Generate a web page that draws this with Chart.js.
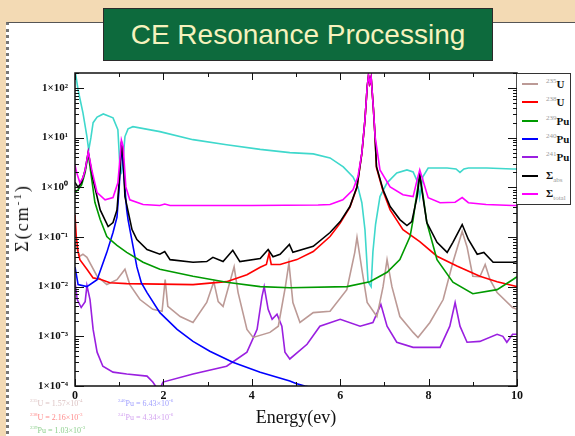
<!DOCTYPE html>
<html>
<head>
<meta charset="utf-8">
<title>CE Resonance Processing</title>
<script src="https://cdn.jsdelivr.net/npm/chart.js@4.4.0/dist/chart.umd.min.js"></script>
<style>
  html, body { margin: 0; padding: 0; }
  body {
    width: 575px; height: 436px; overflow: hidden; position: relative;
    background: #f3dab4;
    font-family: 'Liberation Serif', 'DejaVu Serif', serif;
  }
  #panel {
    position: absolute; left: 6px; top: 22px; width: 600px; height: 430px;
    background: #fff; border-top: 1px solid #555; border-left: 3px dotted #777;
  }
  #titleBox {
    position: absolute; left: 103px; top: 8px; width: 388px; height: 51px;
    background: #0d6a3d; border: 1px solid #2b2b2b;
    color: #f6f2bd; font: 28px 'Liberation Sans', Arial, sans-serif;
    text-align: center; line-height: 52px;
  }
  #chart { position: absolute; left: 0; top: 0; }
  #legend {
    position: absolute; left: 517px; top: 73px; width: 53px; height: 130px;
    border: 1px solid #333; border-left-width: 0; background: #fff;
  }
  .row { position: absolute; left: 0; width: 53px; height: 16px; }
  .sw { position: absolute; left: 5px; top: 7px; width: 16px; height: 2px; }
  .lab { position: absolute; left: 29px; top: 1px; font: bold 11px 'Liberation Serif', serif; color: #111; white-space: nowrap; }
  .lab sup { font-size: 7px; font-weight: normal; color: #999; }
  .lab sub { font-size: 7px; font-weight: normal; color: #999; }
  #yTitle {
    position: absolute; left: 22px; top: 218px;
    transform: translate(-50%, -50%) rotate(-90deg);
    font: 18px 'Liberation Serif', serif; letter-spacing: 2px; white-space: nowrap; color: #111;
  }
  #yTitle sup { font-size: 11px; }
  .note { position: absolute; font: 8px 'Liberation Serif', serif; white-space: nowrap; }
  .note sup { font-size: 5px; }
</style>
</head>
<body>
<div id="panel"></div>
<div id="titleBox">CE Resonance Processing</div>
<canvas id="chart" width="575" height="436"></canvas>
<div id="legend"></div>
<div id="yTitle">Σ(cm<sup>-1</sup>)</div>

<div class="note" style="left:30px; top:398px; color:#dcc2c2"><sup>235</sup>U = 1.57×10<sup>-4</sup></div>
<div class="note" style="left:30px; top:412px; color:#ff8a8a"><sup>238</sup>U = 2.16×10<sup>-3</sup></div>
<div class="note" style="left:30px; top:425px; color:#8ccf8c"><sup>239</sup>Pu = 1.03×10<sup>-3</sup></div>
<div class="note" style="left:118px; top:398px; color:#a0a0ff"><sup>240</sup>Pu = 6.43×10<sup>-6</sup></div>
<div class="note" style="left:118px; top:412px; color:#d2a2f0"><sup>241</sup>Pu = 4.34×10<sup>-6</sup></div>

<script>
// [energy (eV), macroscopic cross section (1/cm)] pairs for each curve
const u235 = [
  [0, 0.079], [0.05, 0.056], [0.11, 0.041], [0.18, 0.045], [0.27, 0.039], [0.5, 0.0162],
  [0.72, 0.011], [0.95, 0.0138], [1.13, 0.0224], [1.24, 0.011], [1.47, 0.0055], [1.76, 0.0035],
  [1.97, 0.0032], [2.04, 0.0138], [2.1, 0.004], [2.38, 0.0025], [2.67, 0.0019], [2.98, 0.0048],
  [3.14, 0.0126], [3.24, 0.005], [3.35, 0.004], [3.6, 0.025], [3.69, 0.0076], [3.89, 0.00138],
  [4.03, 0.00095], [4.41, 0.0012], [4.6, 0.0016], [4.76, 0.01], [4.84, 0.03], [4.93, 0.0048],
  [5.09, 0.0019], [5.39, 0.003], [5.77, 0.0032], [6.15, 0.0087], [6.33, 0.049], [6.38, 0.098],
  [6.49, 0.0224], [6.61, 0.0048], [6.83, 0.0025], [6.97, 0.01], [7.06, 0.035], [7.17, 0.01],
  [7.35, 0.0025], [7.65, 0.0012], [7.76, 0.00095], [8.03, 0.0019], [8.33, 0.0055], [8.55, 0.031],
  [8.76, 0.129], [8.87, 0.063], [9.0, 0.0162], [9.16, 0.0158], [9.28, 0.028], [9.39, 0.0138],
  [9.55, 0.0076], [9.9, 0.0038], [10, 0.0035]
];
const u238 = [
  [0, 0.28], [0.03, 0.1], [0.07, 0.05], [0.11, 0.035], [0.27, 0.0224], [0.41, 0.015],
  [0.57, 0.0141], [0.79, 0.012], [1.17, 0.0115], [2.67, 0.011], [3.43, 0.0126], [3.89, 0.0174],
  [4.19, 0.0245], [4.33, 0.028], [4.39, 0.047], [4.44, 0.028], [4.64, 0.028], [5.02, 0.035],
  [5.39, 0.051], [5.77, 0.102], [6.0, 0.19], [6.22, 0.4], [6.38, 1.0], [6.49, 4.8],
  [6.56, 22.4], [6.61, 102], [6.64, 174], [6.67, 123], [6.7, 162], [6.75, 39], [6.79, 10],
  [6.82, 2.5], [6.97, 0.83], [7.13, 0.35], [7.42, 0.141], [7.8, 0.081], [8.19, 0.041],
  [8.64, 0.026], [9.16, 0.0162], [9.55, 0.0126], [9.9, 0.0105], [10, 0.01]
];
const pu239 = [
  [0, 0.79], [0.07, 0.89], [0.15, 1.12], [0.23, 2.0], [0.3, 4.8], [0.38, 1.41], [0.45, 0.5],
  [0.57, 0.224], [0.72, 0.102], [0.79, 0.089], [0.95, 0.068], [1.17, 0.049], [1.54, 0.031],
  [1.92, 0.0224], [2.67, 0.0162], [3.43, 0.0123], [4.19, 0.01], [4.86, 0.0095], [6.15, 0.01],
  [6.67, 0.0126], [7.06, 0.0195], [7.35, 0.035], [7.58, 0.102], [7.65, 0.224], [7.72, 0.63],
  [7.8, 1.78], [7.88, 0.63], [7.96, 0.195], [8.19, 0.035], [8.55, 0.0123], [9.0, 0.0072],
  [9.55, 0.0087], [9.9, 0.0138], [10, 0.0158]
];
const pu240 = [
  [0, 0.025], [0.07, 0.011], [0.27, 0.01], [0.5, 0.0138], [0.72, 0.049], [0.86, 0.123],
  [0.95, 0.25], [1.0, 1.0], [1.05, 7.6], [1.1, 2.0], [1.17, 0.35], [1.2, 0.224], [1.4, 0.025],
  [1.5, 0.012], [1.63, 0.0076], [1.92, 0.003], [2.31, 0.00138], [2.67, 0.00079], [3.05, 0.0005],
  [3.57, 0.0003], [4.19, 0.00019], [4.86, 0.000126], [5.0, 0.000112], [5.2, 0.0001],
  [6, 0.00007], [10, 0.000025]
];
const pu241 = [
  [0, 0.0126], [0.05, 0.0055], [0.14, 0.0038], [0.23, 0.005], [0.27, 0.0105], [0.34, 0.0055],
  [0.41, 0.00138], [0.5, 0.00048], [0.63, 0.00025], [0.86, 0.00019], [1.17, 0.000174],
  [1.63, 0.000158], [1.76, 0.00012], [1.9, 0.000079], [1.99, 0.00012], [2.67, 0.000174],
  [3.43, 0.00025], [3.89, 0.00048], [4.12, 0.00138], [4.23, 0.0063], [4.28, 0.01], [4.37, 0.0035],
  [4.46, 0.0022], [4.57, 0.0028], [4.68, 0.0016], [4.75, 0.00048], [4.86, 0.00035], [5.25, 0.00069],
  [5.54, 0.0016], [6.0, 0.0022], [6.45, 0.0016], [6.74, 0.0019], [6.92, 0.0044], [7.06, 0.0016],
  [7.28, 0.00076], [7.65, 0.0006], [8.26, 0.0006], [8.48, 0.0016], [8.6, 0.0048], [8.71, 0.0016],
  [8.87, 0.00076], [9.16, 0.00079], [9.55, 0.0011], [9.68, 0.001], [9.77, 0.00076], [9.9, 0.0011],
  [10, 0.0011]
];
const sigmaAbs = [
  [0, 1.26], [0.07, 1.0], [0.15, 1.26], [0.23, 2.24], [0.3, 5.1], [0.41, 1.41], [0.57, 0.35],
  [0.75, 0.162], [0.86, 0.195], [0.95, 0.35], [1.02, 2.24], [1.05, 8.3], [1.09, 4.0], [1.13, 0.65],
  [1.29, 0.141], [1.4, 0.089], [1.63, 0.056], [1.92, 0.045], [2.03, 0.051], [2.15, 0.035],
  [2.67, 0.031], [2.98, 0.032], [3.12, 0.039], [3.35, 0.032], [3.57, 0.054], [3.73, 0.032],
  [4.19, 0.037], [4.37, 0.056], [4.48, 0.04], [4.64, 0.045], [4.85, 0.071], [4.93, 0.049],
  [5.39, 0.065], [5.77, 0.123], [6.0, 0.204], [6.22, 0.41], [6.38, 1.02], [6.49, 4.9],
  [6.56, 22.9], [6.61, 105], [6.64, 178], [6.67, 126], [6.7, 166], [6.75, 40], [6.79, 10],
  [6.82, 2.63], [6.97, 0.89], [7.13, 0.41], [7.35, 0.224], [7.51, 0.17], [7.62, 0.204],
  [7.74, 0.65], [7.8, 1.78], [7.87, 0.65], [7.96, 0.195], [8.19, 0.078], [8.42, 0.049],
  [8.55, 0.078], [8.76, 0.178], [8.9, 0.089], [9.1, 0.045], [9.25, 0.049], [9.46, 0.031],
  [9.9, 0.031], [10, 0.032]
];
const sigmaTotal = [
  [0, 2.8], [0.04, 1.95], [0.11, 1.23], [0.18, 1.58], [0.23, 2.24], [0.3, 5.2], [0.38, 2.24],
  [0.5, 0.78], [0.68, 0.56], [0.86, 0.62], [0.97, 1.23], [1.02, 4.0], [1.05, 8.9], [1.09, 6.6],
  [1.15, 1.02], [1.24, 0.56], [1.54, 0.45], [1.92, 0.43], [2.03, 0.46], [2.15, 0.43], [4.0, 0.43],
  [5.5, 0.44], [5.77, 0.45], [6.06, 0.56], [6.29, 0.89], [6.4, 1.62], [6.49, 4.9], [6.56, 22.9],
  [6.61, 105], [6.64, 178], [6.67, 126], [6.7, 166], [6.75, 40], [6.79, 10.5], [6.9, 2.24],
  [7.13, 1.02], [7.42, 0.71], [7.65, 0.65], [7.74, 1.41], [7.8, 2.24], [7.87, 1.41], [7.99, 0.62],
  [8.26, 0.49], [8.6, 0.5], [8.76, 0.62], [8.9, 0.49], [9.3, 0.45], [9.9, 0.43], [10, 0.43]
];
// unlabelled cyan curve (no legend entry)
const cyanCurve = [
  [0, 230], [0.07, 91], [0.18, 31.6], [0.27, 10.5], [0.31, 5.6], [0.36, 10], [0.41, 20],
  [0.5, 26], [0.64, 30], [0.86, 25], [0.97, 14.5], [1.02, 2.24], [1.05, 2.0], [1.09, 4.0],
  [1.13, 10.5], [1.2, 15], [1.31, 16.6], [1.92, 13.2], [2.67, 9.1], [3.43, 7.2], [4.19, 5.8],
  [4.86, 5.0], [5.39, 4.7], [5.77, 3.9], [6.07, 2.57], [6.29, 1.62], [6.4, 1.02], [6.49, 0.49],
  [6.56, 0.141], [6.63, 0.0126], [6.7, 0.01], [6.74, 0.05], [6.8, 0.18], [6.9, 0.65],
  [7.06, 1.23], [7.28, 1.95], [7.51, 2.24], [7.65, 2.04], [7.76, 1.23], [7.8, 0.63], [7.87, 1.62],
  [7.99, 2.45], [8.42, 2.45], [8.62, 2.34], [8.71, 2.0], [8.8, 2.34], [8.9, 2.45], [9.32, 2.45],
  [9.9, 2.34], [10, 2.34]
];

// axis range and tick layout
const energyTicks = [0, 1, 2, 3, 4, 5, 6, 7, 8, 9, 10];
const decadeExps = [-4, -3, -2, -1, 0, 1, 2];
const sigmaMin = 1e-4;
const sigmaMax = 200;

// legend rows: label html, colour, data, draw order (higher = drawn first)
const series = [
  { key: '235U', html: '<sup>235</sup>U', color: '#bc9a96', data: u235, order: 5 },
  { key: '238U', html: '<sup>238</sup>U', color: '#ff0000', data: u238, order: 4 },
  { key: '239Pu', html: '<sup>239</sup>Pu', color: '#009a00', data: pu239, order: 2 },
  { key: '240Pu', html: '<sup>240</sup>Pu', color: '#0000ff', data: pu240, order: 3 },
  { key: '241Pu', html: '<sup>241</sup>Pu', color: '#9a1fe0', data: pu241, order: 6 },
  { key: 'Σabs', html: 'Σ<sub>abs</sub>', color: '#000000', data: sigmaAbs, order: 1 },
  { key: 'Σtotal', html: 'Σ<sub>total</sub>', color: '#ff00ff', data: sigmaTotal, order: 0 }
];

const SUP = { '-': '⁻', '0': '⁰', '1': '¹', '2': '²', '3': '³', '4': '⁴', '5': '⁵', '6': '⁶', '7': '⁷', '8': '⁸', '9': '⁹' };
const supText = n => String(n).split('').map(c => SUP[c]).join('');

const toPoints = pairs => pairs.map(([x, y]) => ({ x, y }));

const datasets = series.map(s => ({
  label: s.key,
  data: toPoints(s.data),
  borderColor: s.color,
  order: s.order
}));
datasets.push({ label: '', data: toPoints(cyanCurve), borderColor: '#3fd8cc', order: 7 });

// inward tick marks on all four sides plus the plot frame
const frameTicks = {
  id: 'frameTicks',
  afterDatasetsDraw(chart) {
    const { ctx, chartArea: a, scales: { x, y } } = chart;
    const seg = (x1, y1, x2, y2) => { ctx.beginPath(); ctx.moveTo(x1, y1); ctx.lineTo(x2, y2); ctx.stroke(); };
    ctx.save();
    ctx.strokeStyle = '#111';
    ctx.lineWidth = 1;
    energyTicks.forEach(e => {
      const px = Math.round(x.getPixelForValue(e)) + 0.5;
      const len = e % 2 === 0 ? 7 : 4;
      seg(px, a.bottom, px, a.bottom - len);
      seg(px, a.top, px, a.top + len);
    });
    decadeExps.forEach(d => {
      for (let m = 1; m <= 9; m++) {
        const v = m * Math.pow(10, d);
        if (v > sigmaMax) break;
        const py = Math.round(y.getPixelForValue(v)) + 0.5;
        const len = m === 1 ? 9 : 4;
        seg(a.left, py, a.left + len, py);
        seg(a.right, py, a.right - len, py);
      }
    });
    ctx.lineWidth = 1.5;
    ctx.strokeRect(a.left, a.top, a.right - a.left, a.bottom - a.top);
    ctx.restore();
  }
};

const chart = new Chart(document.getElementById('chart'), {
  type: 'line',
  data: { datasets },
  options: {
    responsive: false,
    animation: false,
    layout: { padding: { left: 0, top: 73, right: 58, bottom: 0 } },
    elements: {
      point: { radius: 0 },
      line: { borderWidth: 1.6, tension: 0 }
    },
    plugins: { legend: { display: false }, tooltip: { enabled: false } },
    scales: {
      x: {
        type: 'linear', min: 0, max: 10,
        grid: { display: false, drawTicks: false },
        border: { display: false },
        ticks: {
          stepSize: 2, padding: 3, color: '#111', maxRotation: 0,
          font: { family: 'Liberation Serif', size: 12, weight: 'bold' }
        },
        title: {
          display: true, text: 'Energy(ev)', color: '#111',
          font: { family: 'Liberation Serif', size: 18 },
          padding: { top: 0, bottom: 7 }
        },
        afterFit: s => { s.height = 50; }
      },
      y: {
        type: 'logarithmic', min: sigmaMin, max: sigmaMax,
        grid: { display: false, drawTicks: false },
        border: { display: false },
        afterBuildTicks: s => { s.ticks = decadeExps.map(d => ({ value: Math.pow(10, d) })); },
        ticks: {
          padding: 7, color: '#111',
          font: { family: 'Liberation Serif', size: 11, weight: 'bold' },
          callback: v => '1×10' + supText(Math.round(Math.log10(v)))
        },
        afterFit: s => { s.width = 75; }
      }
    }
  },
  plugins: [frameTicks]
});

// html legend built from the labelled series
const legend = document.getElementById('legend');
series.forEach((s, i) => {
  const row = document.createElement('div');
  row.className = 'row';
  row.style.top = (2 + i * 18.3) + 'px';
  row.innerHTML = '<span class="sw" style="background:' + s.color + '"></span><span class="lab">' + s.html + '</span>';
  legend.appendChild(row);
});
</script>
</body>
</html>
